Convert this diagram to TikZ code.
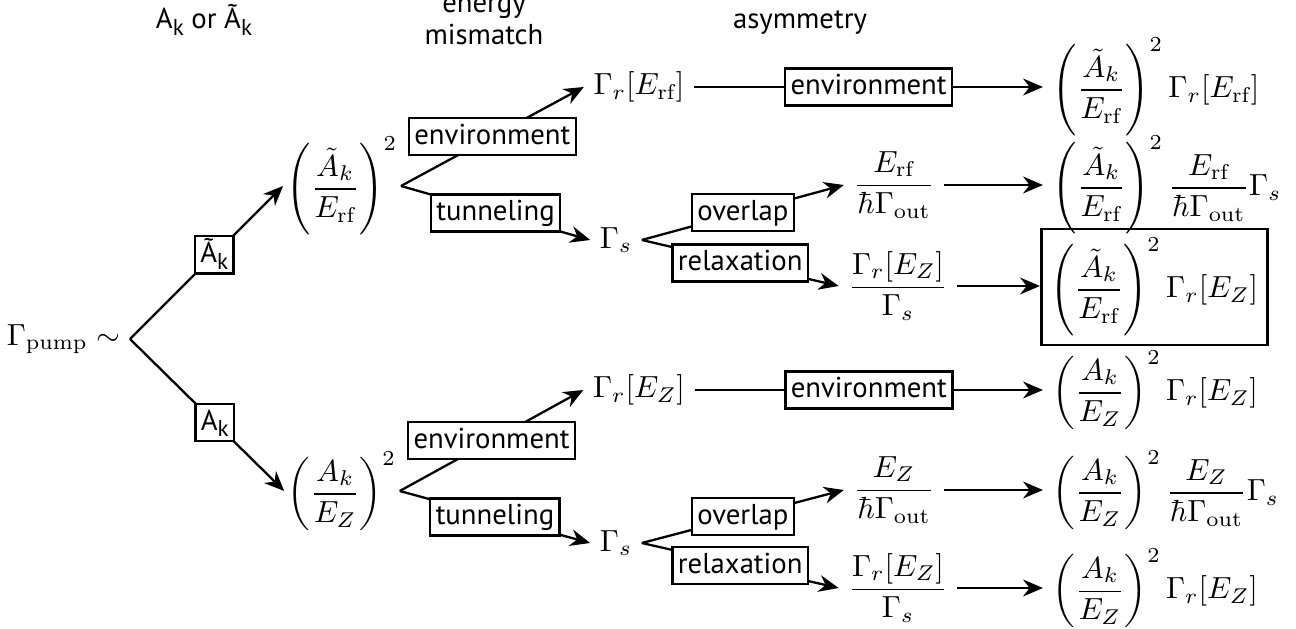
\documentclass[tikz,border=0pt]{standalone}
\usepackage{fontspec}
\setsansfont{PT Sans}
\usepackage{amsmath}
\usetikzlibrary{arrows.meta}
\newcommand{\ksub}{\raisebox{-0.45ex}{\scalebox{0.8}{k}}}

\begin{document}
\begin{tikzpicture}[
        x=0.0115cm, y=-0.0115cm,
        tagbox/.style={rectangle, draw=black, line width=0.8pt, fill=white, inner xsep=1.8pt, inner ysep=1.5pt, font=\sffamily\fontsize{9.4}{10}\selectfont, text height=7.2pt, text depth=2pt},
        header/.style={font=\sffamily\fontsize{9.4}{10.5}\selectfont, align=center},
        expr/.style={inner sep=3pt},
        arrow/.style={-{Stealth[length=6.5pt, width=5.5pt]}, line width=0.75pt}
    ]
    \useasboundingbox (0,0) rectangle (1296,629);

    % The Column Headers
    \node[header] (hcoef) at (204,20) {A\ksub{} or Ã\ksub};
    \node[header] (henergy) at (484,21) {energy\\mismatch};
    \node[header] (hasym) at (800,23) {asymmetry};

    % The Root and First Level
    \node[expr, anchor=east] (pump) at (130,339) {$\Gamma_{\mathrm{pump}}\sim$};
    \node[expr, inner sep=1pt] (rfsq) at (342,186) {$\displaystyle\left(\frac{\tilde{A}_k}{E_{\mathrm{rf}}}\right)^{2}$};
    \node[expr, inner sep=1pt] (zsq) at (342,491) {$\displaystyle\left(\frac{A_k}{E_Z}\right)^{2}$};

    % The Second Level
    \node[expr] (rfenv) at (639,87) {$\Gamma_r[E_{\mathrm{rf}}]$};
    \node[expr] (rftun) at (616,240) {$\Gamma_s$};
    \node[expr] (zenv) at (639,390) {$\Gamma_r[E_Z]$};
    \node[expr] (ztun) at (616,543) {$\Gamma_s$};

    % The Third Level
    \node[expr] (rfover) at (894,185) {$\displaystyle\frac{E_{\mathrm{rf}}}{\hbar\Gamma_{\mathrm{out}}}$};
    \node[expr] (rfrelax) at (898,286) {$\displaystyle\frac{\Gamma_r[E_Z]}{\Gamma_s}$};
    \node[expr] (zover) at (894,490) {$\displaystyle\frac{E_Z}{\hbar\Gamma_{\mathrm{out}}}$};
    \node[expr] (zrelax) at (898,588) {$\displaystyle\frac{\Gamma_r[E_Z]}{\Gamma_s}$};

    % The Results
    \node[expr, anchor=west] (rfres1) at (1043,87) {$\displaystyle\left(\frac{\tilde{A}_k}{E_{\mathrm{rf}}}\right)^{2}\Gamma_r[E_{\mathrm{rf}}]$};
    \node[expr, anchor=west] (rfres2) at (1043,185) {$\displaystyle\left(\frac{\tilde{A}_k}{E_{\mathrm{rf}}}\right)^{2}\frac{E_{\mathrm{rf}}}{\hbar\Gamma_{\mathrm{out}}}\Gamma_s$};
    \node[expr, anchor=west, draw, line width=0.9pt, inner xsep=3pt, minimum height=36pt] (rfres3) at (1040,287) {$\displaystyle\left(\frac{\tilde{A}_k}{E_{\mathrm{rf}}}\right)^{2}\Gamma_r[E_Z]$};
    \node[expr, anchor=west] (zres1) at (1043,390) {$\displaystyle\left(\frac{A_k}{E_Z}\right)^{2}\Gamma_r[E_Z]$};
    \node[expr, anchor=west] (zres2) at (1043,490) {$\displaystyle\left(\frac{A_k}{E_Z}\right)^{2}\frac{E_Z}{\hbar\Gamma_{\mathrm{out}}}\Gamma_s$};
    \node[expr, anchor=west] (zres3) at (1043,588) {$\displaystyle\left(\frac{A_k}{E_Z}\right)^{2}\Gamma_r[E_Z]$};

    % The Branches
    \draw[arrow] (pump.east) -- node[tagbox, pos=0.55] (tagrf) {Ã\ksub} (rfsq.west);
    \draw[arrow] (pump.east) -- node[tagbox, pos=0.55] (tagz) {A\ksub} (zsq.west);

    \draw[arrow] (rfsq.east) -- node[tagbox] (rfenvtag) {environment} (rfenv.west);
    \draw[arrow] (rfsq.east) -- node[tagbox] (rftuntag) {tunneling} (rftun.west);
    \draw[arrow] (rftun.east) -- node[tagbox] (rfovertag) {overlap} (rfover.west);
    \draw[arrow] (rftun.east) -- node[tagbox] (rfrelaxtag) {relaxation} (rfrelax.west);

    \draw[arrow] (zsq.east) -- node[tagbox] (zenvtag) {environment} (zenv.west);
    \draw[arrow] (zsq.east) -- node[tagbox] (ztuntag) {tunneling} (ztun.west);
    \draw[arrow] (ztun.east) -- node[tagbox] (zovertag) {overlap} (zover.west);
    \draw[arrow] (ztun.east) -- node[tagbox] (zrelaxtag) {relaxation} (zrelax.west);

    % The Arrows to the Results
    \draw[arrow] (rfenv.east) -- node[tagbox] (rfasym) {environment} (rfres1.west);
    \draw[arrow] (rfover.east) -- (rfres2.west);
    \draw[arrow] (rfrelax.east) -- (rfrelax.east -| rfres3.west);
    \draw[arrow] (zenv.east) -- node[tagbox] (zasym) {environment} (zres1.west);
    \draw[arrow] (zover.east) -- (zres2.west);
    \draw[arrow] (zrelax.east) -- (zres3.west);

\end{tikzpicture}
\end{document}
